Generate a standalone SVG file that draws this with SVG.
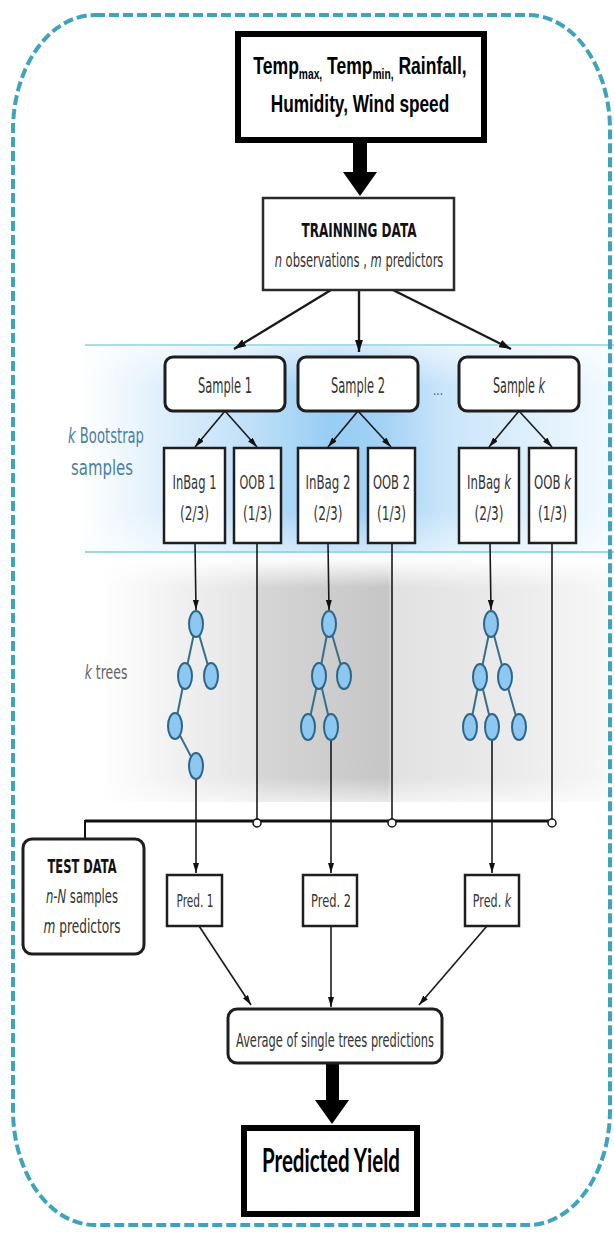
<svg xmlns="http://www.w3.org/2000/svg" width="614" height="1234" viewBox="0 0 614 1234">
<defs>
  <linearGradient id="blueBand" gradientUnits="userSpaceOnUse" x1="80" y1="0" x2="614" y2="0">
    <stop offset="0" stop-color="#ffffff"/>
    <stop offset="0.15" stop-color="#e0f0fc"/>
    <stop offset="0.32" stop-color="#bfe0f8"/>
    <stop offset="0.47" stop-color="#98cdf4"/>
    <stop offset="0.57" stop-color="#a3d2f5"/>
    <stop offset="0.68" stop-color="#c9e5fa"/>
    <stop offset="0.84" stop-color="#ddeffc"/>
    <stop offset="1" stop-color="#f3faff"/>
  </linearGradient>
  <linearGradient id="blueFade" x1="0" y1="0" x2="0" y2="1">
    <stop offset="0" stop-color="#ffffff" stop-opacity="0.6"/>
    <stop offset="0.2" stop-color="#ffffff" stop-opacity="0"/>
    <stop offset="0.8" stop-color="#ffffff" stop-opacity="0"/>
    <stop offset="1" stop-color="#ffffff" stop-opacity="0.5"/>
  </linearGradient>
  <linearGradient id="grayBand" gradientUnits="userSpaceOnUse" x1="100" y1="0" x2="614" y2="0">
    <stop offset="0" stop-color="#ffffff"/>
    <stop offset="0.19" stop-color="#ededed"/>
    <stop offset="0.303" stop-color="#e4e4e4"/>
    <stop offset="0.306" stop-color="#d6d6d6"/>
    <stop offset="0.56" stop-color="#c6c6c6"/>
    <stop offset="0.57" stop-color="#e1e1e1"/>
    <stop offset="0.82" stop-color="#ececec"/>
    <stop offset="1" stop-color="#f8f8f8"/>
  </linearGradient>
  <linearGradient id="grayFade" x1="0" y1="0" x2="0" y2="1">
    <stop offset="0" stop-color="#ffffff" stop-opacity="1"/>
    <stop offset="0.12" stop-color="#ffffff" stop-opacity="0"/>
    <stop offset="0.9" stop-color="#ffffff" stop-opacity="0"/>
    <stop offset="1" stop-color="#ffffff" stop-opacity="0.6"/>
  </linearGradient>
  <marker id="ah" viewBox="0 0 10 6" refX="10" refY="3" markerWidth="10" markerHeight="6" markerUnits="userSpaceOnUse" orient="auto">
    <path d="M0,0 L10,3 L0,6 z" fill="#111"/>
  </marker>
  <marker id="ahb" viewBox="0 0 12 8" refX="12" refY="4" markerWidth="12" markerHeight="8" markerUnits="userSpaceOnUse" orient="auto">
    <path d="M0,0 L12,4 L0,8 z" fill="#111"/>
  </marker>
</defs>
<style>
  .box{fill:#fff;stroke:#1e1e1e;stroke-width:2.5}
  .rbox{fill:#fff;stroke:#1e1e1e;stroke-width:3}
  .thick{fill:#fff;stroke:#000;stroke-width:6}
  .t{font-family:"DejaVu Sans",Verdana,sans-serif;fill:#333;text-anchor:middle}
  .tb{font-family:"DejaVu Sans",Verdana,sans-serif;font-weight:bold;fill:#111;text-anchor:middle}
  .cal{font-family:"Liberation Sans",Arial,sans-serif;font-weight:bold;fill:#000;text-anchor:middle}
  .lato{font-family:Lato,"Liberation Sans",sans-serif;font-weight:bold;fill:#000}
  .ln{stroke:#1a1a1a;stroke-width:1.6;fill:none}
  .lnb{stroke:#1a1a1a;stroke-width:2.4;fill:none}
  .node{fill:#8cc8f1;stroke:#2d6686;stroke-width:2}
  .edge{stroke:#34708d;stroke-width:2}
  .i{font-style:italic}
  .blue{fill:#4a7fa3}
</style>
<rect x="0" y="0" width="614" height="1234" fill="#fff"/>

<!-- bands -->
<g id="bands">
  <rect x="80" y="345" width="534" height="207" fill="url(#blueBand)"/>
  <rect x="80" y="345" width="534" height="207" fill="url(#blueFade)"/>
  <line x1="85" y1="345" x2="614" y2="345" stroke="#a6dcec" stroke-width="2"/>
  <line x1="85" y1="552" x2="614" y2="552" stroke="#9ad6e8" stroke-width="2"/>
  <rect x="100" y="558" width="514" height="244" fill="url(#grayBand)"/>
  <rect x="100" y="558" width="514" height="244" fill="url(#grayFade)"/>
</g>

<!-- outer dashed frame -->
<rect id="frame" x="13" y="15" width="597" height="1210" rx="82" ry="115" fill="none" stroke="#3ea3bd" stroke-width="4" stroke-dasharray="10 4"/>

<!-- side labels -->
<g id="label-bootstrap">
  <text class="t blue" transform="translate(106,443) scale(0.627,1)" font-size="21"><tspan class="i">k</tspan> Bootstrap</text>
  <text class="t blue" x="102" y="475" font-size="21" textLength="62" lengthAdjust="spacingAndGlyphs">samples</text>
</g>
<g id="label-trees">
  <text class="t" transform="translate(106,679) scale(0.623,1)" font-size="20" style="fill:#666"><tspan class="i">k</tspan> trees</text>
</g>

<!-- connectors -->
<g id="connectors">
  <polygon points="353,143 367,143 367,172 377,172 360,196 343,172 353,172" fill="#000"/>
  <line class="lnb" x1="331" y1="290" x2="234" y2="349" marker-end="url(#ahb)"/>
  <line class="lnb" x1="359" y1="290" x2="359" y2="352" marker-end="url(#ahb)"/>
  <line class="lnb" x1="393" y1="290" x2="511" y2="349" marker-end="url(#ahb)"/>
  <line class="ln" x1="225" y1="411" x2="195" y2="447" marker-end="url(#ah)"/>
  <line class="ln" x1="225" y1="411" x2="257" y2="447" marker-end="url(#ah)"/>
  <line class="ln" x1="358" y1="411" x2="328" y2="447" marker-end="url(#ah)"/>
  <line class="ln" x1="358" y1="411" x2="391" y2="447" marker-end="url(#ah)"/>
  <line class="ln" x1="519" y1="411" x2="489" y2="447" marker-end="url(#ah)"/>
  <line class="ln" x1="519" y1="411" x2="552" y2="447" marker-end="url(#ah)"/>
  <line class="ln" x1="195" y1="543" x2="196" y2="610" marker-end="url(#ah)"/>
  <line class="ln" x1="328" y1="543" x2="329" y2="610" marker-end="url(#ah)"/>
  <line class="ln" x1="490" y1="543" x2="491" y2="610" marker-end="url(#ah)"/>
  <line class="ln" x1="257" y1="543" x2="257" y2="819"/>
  <line class="ln" x1="392" y1="543" x2="392" y2="819"/>
  <line class="ln" x1="552" y1="543" x2="552" y2="819"/>
  <line x1="85" y1="821" x2="552" y2="821" stroke="#111" stroke-width="3"/>
  <line x1="85" y1="820" x2="85" y2="839" stroke="#111" stroke-width="2"/>
  <circle cx="257" cy="823" r="4" fill="#fff" stroke="#111" stroke-width="1.5"/>
  <circle cx="392" cy="823" r="4" fill="#fff" stroke="#111" stroke-width="1.5"/>
  <circle cx="552" cy="823" r="4" fill="#fff" stroke="#111" stroke-width="1.5"/>
  <line class="ln" x1="196" y1="778" x2="196" y2="873" marker-end="url(#ah)"/>
  <line class="ln" x1="331" y1="739" x2="331" y2="873" marker-end="url(#ah)"/>
  <line class="ln" x1="492" y1="739" x2="492" y2="873" marker-end="url(#ah)"/>
  <line class="ln" x1="199" y1="926" x2="251" y2="1005" marker-end="url(#ah)"/>
  <line class="ln" x1="331" y1="926" x2="331" y2="1007" marker-end="url(#ah)"/>
  <line class="ln" x1="487" y1="926" x2="419" y2="1005" marker-end="url(#ah)"/>
  <polygon points="326,1063 339,1063 339,1100 349,1100 332,1124 315,1100 326,1100" fill="#000"/>
</g>

<!-- trees -->
<g id="tree-1">
  <line class="edge" x1="196" y1="624" x2="185" y2="676"/>
  <line class="edge" x1="196" y1="624" x2="211" y2="676"/>
  <line class="edge" x1="185" y1="676" x2="175" y2="726"/>
  <line class="edge" x1="175" y1="726" x2="196" y2="766"/>
  <ellipse class="node" cx="196" cy="624" rx="7" ry="13"/>
  <ellipse class="node" cx="185" cy="676" rx="7" ry="13"/>
  <ellipse class="node" cx="211" cy="676" rx="7" ry="13"/>
  <ellipse class="node" cx="175" cy="726" rx="7" ry="13"/>
  <ellipse class="node" cx="196" cy="766" rx="7" ry="13"/>
</g>
<g id="tree-2">
  <line class="edge" x1="329" y1="624" x2="319" y2="676"/>
  <line class="edge" x1="329" y1="624" x2="344" y2="676"/>
  <line class="edge" x1="319" y1="676" x2="308" y2="727"/>
  <line class="edge" x1="319" y1="676" x2="331" y2="727"/>
  <ellipse class="node" cx="329" cy="624" rx="7" ry="13"/>
  <ellipse class="node" cx="319" cy="676" rx="7" ry="13"/>
  <ellipse class="node" cx="344" cy="676" rx="7" ry="13"/>
  <ellipse class="node" cx="308" cy="727" rx="7" ry="13"/>
  <ellipse class="node" cx="331" cy="727" rx="7" ry="13"/>
</g>
<g id="tree-k">
  <line class="edge" x1="491" y1="624" x2="480" y2="677"/>
  <line class="edge" x1="491" y1="624" x2="505" y2="677"/>
  <line class="edge" x1="480" y1="677" x2="470" y2="727"/>
  <line class="edge" x1="480" y1="677" x2="492" y2="727"/>
  <line class="edge" x1="505" y1="677" x2="519" y2="727"/>
  <ellipse class="node" cx="491" cy="624" rx="7" ry="13"/>
  <ellipse class="node" cx="480" cy="677" rx="7" ry="13"/>
  <ellipse class="node" cx="505" cy="677" rx="7" ry="13"/>
  <ellipse class="node" cx="470" cy="727" rx="7" ry="13"/>
  <ellipse class="node" cx="492" cy="727" rx="7" ry="13"/>
  <ellipse class="node" cx="519" cy="727" rx="7" ry="13"/>
</g>

<!-- nodes -->
<g id="inputs">
  <rect class="thick" x="238" y="34" width="246" height="106"/>
  <text class="cal" transform="translate(360,74) scale(0.731,1)" font-size="24">Temp<tspan font-size="14" dy="5">max,</tspan><tspan dy="-5"> Temp</tspan><tspan font-size="14" dy="5">min,</tspan><tspan dy="-5"> Rainfall,</tspan></text>
  <text class="cal" transform="translate(360,112) scale(0.718,1)" font-size="24">Humidity, Wind speed</text>
</g>
<g id="training">
  <rect class="box" x="263" y="198" width="191" height="92" style="stroke:#2a2a2a"/>
  <text class="tb" x="359" y="237" font-size="19" textLength="115" lengthAdjust="spacingAndGlyphs">TRAINNING DATA</text>
  <text class="t" transform="translate(359,267) scale(0.606,1)" font-size="19"><tspan class="i">n</tspan> observations , <tspan class="i">m</tspan> predictors</text>
</g>
<g id="sample-1">
  <rect class="rbox" x="165" y="357" width="120" height="54" rx="8"/>
  <text class="t" x="225" y="393" font-size="21" textLength="54" lengthAdjust="spacingAndGlyphs">Sample 1</text>
</g>
<g id="sample-2">
  <rect class="rbox" x="298" y="357" width="120" height="54" rx="8"/>
  <text class="t" x="358" y="393" font-size="21" textLength="54" lengthAdjust="spacingAndGlyphs">Sample 2</text>
</g>
<g id="ellipsis">
  <text class="t" x="438" y="395" font-size="14" textLength="10" lengthAdjust="spacingAndGlyphs" style="fill:#555">...</text>
</g>
<g id="sample-k">
  <rect class="rbox" x="459" y="357" width="120" height="54" rx="8"/>
  <text class="t" transform="translate(519,393) scale(0.533,1)" font-size="21">Sample <tspan class="i">k</tspan></text>
</g>
<g id="inbag-1">
  <rect class="box" x="164" y="448" width="61" height="95"/>
  <text class="t" transform="translate(194.5,489) scale(0.576,1)" font-size="20">InBag 1</text>
  <text class="t" x="194.5" y="520" font-size="20" textLength="29" lengthAdjust="spacingAndGlyphs">(2/3)</text>
</g>
<g id="oob-1">
  <rect class="box" x="234" y="448" width="47" height="95"/>
  <text class="t" transform="translate(257.5,489) scale(0.56,1)" font-size="20">OOB 1</text>
  <text class="t" x="257.5" y="520" font-size="20" textLength="29" lengthAdjust="spacingAndGlyphs">(1/3)</text>
</g>
<g id="inbag-2">
  <rect class="box" x="298" y="448" width="60" height="95"/>
  <text class="t" transform="translate(328,489) scale(0.59,1)" font-size="20">InBag 2</text>
  <text class="t" x="328" y="520" font-size="20" textLength="29" lengthAdjust="spacingAndGlyphs">(2/3)</text>
</g>
<g id="oob-2">
  <rect class="box" x="368" y="448" width="47" height="95"/>
  <text class="t" transform="translate(391.5,489) scale(0.575,1)" font-size="20">OOB 2</text>
  <text class="t" x="391.5" y="520" font-size="20" textLength="29" lengthAdjust="spacingAndGlyphs">(1/3)</text>
</g>
<g id="inbag-k">
  <rect class="box" x="459" y="448" width="60" height="95"/>
  <text class="t" transform="translate(489,489) scale(0.585,1)" font-size="20">InBag <tspan class="i">k</tspan></text>
  <text class="t" x="489" y="520" font-size="20" textLength="29" lengthAdjust="spacingAndGlyphs">(2/3)</text>
</g>
<g id="oob-k">
  <rect class="box" x="529" y="448" width="47" height="95"/>
  <text class="t" transform="translate(552.5,489) scale(0.586,1)" font-size="20">OOB <tspan class="i">k</tspan></text>
  <text class="t" x="552.5" y="520" font-size="20" textLength="29" lengthAdjust="spacingAndGlyphs">(1/3)</text>
</g>
<g id="test-data">
  <rect class="rbox" x="23" y="839" width="121" height="115" rx="9"/>
  <text class="tb" x="82" y="873" font-size="19" textLength="69" lengthAdjust="spacingAndGlyphs">TEST DATA</text>
  <text class="t" transform="translate(82,903) scale(0.61,1)" font-size="19"><tspan class="i">n-N</tspan> samples</text>
  <text class="t" transform="translate(82,933) scale(0.64,1)" font-size="19"><tspan class="i">m</tspan> predictors</text>
</g>
<g id="pred-1">
  <rect class="box" x="167" y="875" width="55" height="51"/>
  <text class="t" x="195" y="907" font-size="18" textLength="37" lengthAdjust="spacingAndGlyphs">Pred. 1</text>
</g>
<g id="pred-2">
  <rect class="box" x="303" y="875" width="54" height="51"/>
  <text class="t" x="331" y="907" font-size="18" textLength="40" lengthAdjust="spacingAndGlyphs">Pred. 2</text>
</g>
<g id="pred-k">
  <rect class="box" x="465" y="875" width="54" height="51"/>
  <text class="t" transform="translate(492,907) scale(0.62,1)" font-size="18">Pred. <tspan class="i">k</tspan></text>
</g>
<g id="average">
  <rect class="rbox" x="228" y="1009" width="214" height="54" rx="9"/>
  <text class="t" x="335" y="1047" font-size="20" textLength="198" lengthAdjust="spacingAndGlyphs">Average of single trees predictions</text>
</g>
<g id="predicted-yield">
  <rect class="thick" x="244" y="1128" width="173" height="86"/>
  <text class="lato" x="262" y="1172" font-size="32" textLength="138" lengthAdjust="spacingAndGlyphs">Predicted Yield</text>
</g>
</svg>
